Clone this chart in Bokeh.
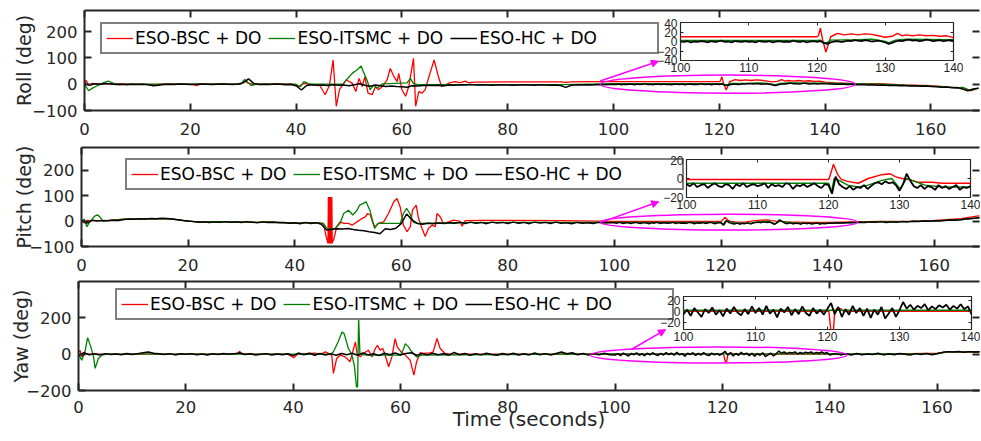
import numpy as np
from bokeh.plotting import figure
from bokeh.models import (Range1d, LinearAxis, FixedTicker, Legend, LegendItem,
                          Arrow, NormalHead, GridBox)
from bokeh.layouts import column
from bokeh.embed import file_html
from bokeh.resources import INLINE

# ------------------------------------------------------------------ data
series_names = ["ESO-BSC + DO", "ESO-ITSMC + DO", "ESO-HC + DO"]
x_title = "Time (seconds)"
x_ticks = [0, 20, 40, 60, 80, 100, 120, 140, 160]
inset_x_ticks = [100, 110, 120, 130, 140]
roll_y_ticks = [-100, 0, 100, 200]
pitch_y_ticks = [-100, 0, 100, 200]
yaw_y_ticks = [-200, 0, 200]
roll_inset_y_ticks = [-40, -20, 0, 20, 40]
pitch_inset_y_ticks = [-20, 0, 20]
yaw_inset_y_ticks = [-20, 0, 20]
roll_y_range = (-100, 280)
pitch_y_range = (-100, 290)
yaw_y_range = (-200, 400)
roll_inset_y_range = (-40, 40)
pitch_inset_y_range = (-20, 20)
yaw_inset_y_range = (-33, 27)

# sample times of the ESO-HC + DO records
t_hc = np.concatenate([np.arange(0, 100, 1.0), np.arange(100, 140.25, 0.5),
                       np.arange(141, 170, 1.0)])

# ---- Roll
roll_bsc_t = [0, 0.3, 0.8, 1.5, 2.5, 5, 10, 13.5, 15, 20, 21.3, 22, 29.5, 30.3, 31, 32, 39,
              40.5, 41.5, 42.5, 44.5, 45.5, 46.3, 47, 47.6, 48.2, 48.9, 49.5, 50.6, 51.3,
              51.9, 52.5, 53, 53.6, 54.4, 55, 55.6, 56.3, 57.2, 57.8, 58.5, 59.1, 59.4, 60,
              60.7, 61.3, 62.2, 62.6, 63.2, 63.8, 64.4, 65.3, 66.1, 66.9, 67.5, 68.2, 69, 70,
              71, 72, 72.5, 74, 80, 90, 91, 92, 95, 120, 120.2, 120.5, 120.8, 121.3, 121.7,
              122, 123, 124, 125, 126, 127, 128, 129, 130, 131, 131.8, 132.5, 133, 134, 135,
              136, 137, 138, 139, 140, 142, 145, 150, 155, 160, 163, 165, 166, 167.5, 169]
roll_bsc = [0, 15, -5, 3, 0, 2, 0, -2, 1, 0, -5, 1, 0, 12, 3, 0, 1,
            -8, 3, 0, -5, -40, -5, 92, -84, -21, 0, 16, 4, -28,
            22, -9, 29, -34, -40, -9, -21, -9, 16, 60, 29, 10, 41, -21,
            -46, -9, 98, -84, -28, -34, -21, 41, 92, 29, -9, -3, 5, 10,
            6, 12, 6, 8, 9, 9, 7, 9, 10, 10, 12, 28, 5, -22, -5,
            10, 17, 14, 16, 14, 16, 15, 12, 9, 11, 17, 12, 14, 12, 14,
            12, 13, 11, 12, 8, 5, 3, 2, -3, -6, -10, -14, -12, -25, -15]
roll_itsmc_t = [0, 0.3, 0.8, 1.5, 2.5, 3.5, 4.5, 5.5, 6.5, 8, 29.5, 30.3, 31, 31.5, 32.5,
                40, 40.8, 41.5, 42.5, 48.9, 49.5, 50.6, 51.5, 52.3, 52.7, 53.4, 54, 54.7,
                55.3, 56.3, 61, 61.6, 62.2, 63, 90, 100, 120, 120.5, 121, 121.5, 122, 126,
                128, 129, 130, 130.5, 131.5, 133, 140, 145, 150, 155, 160, 163, 165, 166,
                167.5, 169]
roll_itsmc = [0, -10, -25, -15, -5, 5, 12, 3, -2, 0, 0, 18, 5, -5, 0,
              0, -10, 10, 0, 0, 16, 41, 54, 69, 48, 16, -21, -3,
              -15, 1, 5, 22, 2, -2, -2, 2, 2, 3, -4, -2, 3, 4,
              5, 3, 0, -3, 3, 5, 4, 2, 0, -4, -7, -10, -14, -12,
              -24, -15]
roll_hc = ([2, -3, 2, 0, 3, 1, -1, 0, -2, 0,
            -1, 0, -2, -6, -4, -1, 0, -1, 1, 0,
            -1, 0, 1, 0, -1, 0, 1, 0, -1, 1,
            5, 20, 3, -1, 0, -1, 1, 0, -2, -1,
            -6, -22, -5, -2, -4, -3, -5, -2, -4, -3,
            -6, -2, 2, -4, -8, -3, -6, -9, -7, -9,
            -10, -12, -6, -7, -5, -4, -5, -4, -6, -3,
            -4, -2, -3, -1, -3, -2, -3, -4, -3, -2,
            -3, -4, -3, -2, -3, -4, -2, -3, -4, -3,
            -5, -12, -4, -2, -3, -2, -3, -1, -2, -1]
           + [0, -1, 1, -2, 0, -1, 1, 0, -2, 1, -1, 0, 2, -1, 0, -2, 1, 0, -1, 1, -1,
              0, -2, 1, 0, -1, 1, -2, 0, 1, -1, 0, -1, 2, 0, -1, 1, -2, 0, 1, -1,
              1, -3, -5, -2, 0, 1, -1, 0, 2, 1, 3, 2, 1, 3, 2, 0, 1, 2, 0, -2,
              -5, -3, 0, 2, 1, 3, 4, 2, 3, 1, 2, 4, 3, 1, 2, 3, 1, 2, 3, 2]
           + [1, 0, 1, -1, 0, -2, -1, -3, -2, -4, -3, -5, -4, -6, -5, -7, -6, -8, -7, -9,
              -10, -12, -11, -14, -13, -18, -25, -18, -15])

# ---- Pitch
pitch_bsc_t = [0, 0.5, 1, 2, 5, 8, 12, 16, 18, 20, 22, 25, 30, 33, 35, 40, 44,
               45.4, 45.9, 46.25, 46.33, 46.41, 46.49, 46.57, 46.65, 46.73, 46.81,
               46.89, 46.97, 47.05, 47.1, 47.3,
               47.9, 48.5, 49.2, 50.1, 50.75, 51.7, 52.6, 53.25, 53.7, 54.2,
               54.7, 55.1, 55.75, 56.7, 57.6, 58.6, 59.2, 59.8, 60.4, 61.1,
               61.7, 62.1, 62.8, 63.25, 63.9, 64.5, 65.1, 65.75, 66.4, 66.7,
               67.3, 67.9, 68.9, 69.8, 71, 71.4, 72, 75, 80, 90,
               100, 120, 120.1, 120.7, 121.3, 121.8, 122.7, 124.2, 125.6, 127.5,
               128.7, 129.4, 130.3, 131.3, 132.7, 134.6, 136, 138.3, 140,
               145, 150, 155, 160, 165, 168, 170]
pitch_bsc = [5, -8, 3, 2, 3, 8, 9, 10, 6, 0, -3, -2, -3, -5, -3, -8, -6,
             -9, -61, -88, 95, -88, 95, -88, 95, -88, 95,
             -88, 95, -88, -80, -75,
             -22, -3, -9, -9, -16, -3, 10, 17, 30, 24,
             -9, -22, -9, -3, 30, 76, 89, 56, -16, -42,
             -22, 43, 63, 10, -29, -61, -29, -16, -22, 30,
             17, -9, -3, 4, 0, -20, 2, 3, 3, 2,
             -1, -1, 0, 15, 4, -1, -3, -5, 0, 4,
             5, 2, 0, -1, -4, -4, -5, -5, -5,
             -3, -1, -1, 3, 10, 20, 22]
pitch_itsmc_t = [0, 0.5, 1, 1.5, 2.5, 3, 3.5, 4, 5, 8,
                 12, 16, 18, 20, 22, 25, 30, 33, 35, 40,
                 44, 45.4, 45.9, 46.5, 47.5, 48.5, 49.2, 50.1, 50.9, 51.7,
                 52.2, 52.8, 53.4, 54.1, 55, 55.6, 57, 59.8, 60.4, 61,
                 61.6, 62.3, 63, 70, 80, 100, 120, 120.1, 120.4, 120.8,
                 121.5, 122.7, 124.2, 125.6, 127.5, 128.9, 130.1, 131, 131.7, 133.6,
                 136, 140, 145, 150, 155, 160, 165, 168, 170]
pitch_itsmc = [-3, 8, -22, -5, 20, 25, 15, 0, 2, 8,
               9, 10, 6, 0, -3, -2, -3, -5, -3, -8,
               -6, -10, -25, -33, -30, -9, 30, 43, 24, 43,
               63, 69, 76, 43, -29, -9, -9, -9, 30, 50,
               30, -5, -9, -6, -5, -5, -5, -6, -15, 0,
               -2, -7, -9, -7, -2, 0, -11, 0, -2, -7,
               -9, -9, -5, -3, -2, 1, 6, 12, 14]
pitch_hc = ([5, -8, 3, 0, 2, 1, 3, 2, 6, 8,
             7, 9, 8, 10, 9, 11, 10, 8, 5, 2,
             0, -2, -4, -3, -5, -3, -4, -2, -4, -3,
             -5, -2, -4, -6, -3, -5, -4, -6, -5, -8,
             -6, -10, -5, -9, -6, -12, -35, -32, -30, -31,
             -29, -33, -36, -38, -42, -45, -50, -30, -33, -28,
             -10, 28, 5, -9, -12, -8, -10, -7, -9, -6,
             -8, -5, -9, -4, -8, -5, -10, -4, -7, -5,
             -9, -4, -8, -5, -10, -4, -7, -5, -9, -4,
             -8, -6, -10, -5, -8, -6, -9, -5, -7, -6]
            + [-6, -8, -5, -9, -7, -6, -10, -7, -5, -8, -9, -6, -7, -11, -6, -8, -5, -9, -7, -6, -8,
               -7, -5, -10, -6, -8, -7, -9, -5, -6, -11, -7, -8, -6, -9, -7, -5, -8, -10, -6, -7,
               -16, 2, -6, -9, -11, -8, -12, -9, -10, -7, -11, -8, -5, -4, -6, -3, -5, -4, -7, -13,
               -6, 5, -2, -8, -10, -7, -11, -8, -9, -12, -7, -10, -8, -11, -9, -7, -12, -9, -10, -8]
            + [-8, -6, -7, -5, -6, -4, -5, -3, -4, -2, -5, -3, -4, -2, -3, -1, -2, 0, -1, 1,
               0, 2, 4, 3, 5, 8, 10, 12, 14])

# ---- Yaw
yaw_bsc_t = [0, 0.3, 0.6, 1, 1.5, 5, 20, 29.5, 30, 30.5,
             31, 39, 40.1, 40.8, 44, 45.2, 46, 47.2, 47.5, 48.1,
             48.8, 49.7, 50.6, 51.6, 51.9, 52.5, 53.1, 54, 54.7, 55.3,
             55.7, 56.2, 56.7, 57.1, 57.8, 58.4, 59, 59.4, 60.1, 60.9,
             61.8, 62.5, 63, 63.7, 64.3, 65.5, 66.1, 66.8, 67.4, 68.3,
             69.3, 100, 120.2, 120.5, 120.8, 121, 121.3, 121.8, 122.2, 140,
             150, 160, 162, 170]
yaw_bsc = [10, 20, -15, 5, 0, 0, 0, 0, 15, 3,
           0, 0, -20, 0, 5, 0, 13, -5, -106, -24,
           -5, -15, -42, 68, 4, -15, 4, 22, -15, 31,
           49, 22, 31, -2, -69, -15, 86, 40, 13, -5,
           -33, -115, -42, 9, 4, 7, 13, 86, 31, 4,
           0, 0, 0, -40, -40, 0, 5, 5, 0, 0,
           0, 5, 12, 12]
yaw_itsmc_t = [0, 0.6, 1.2, 1.7, 2.3, 2.8, 3.1, 3.7, 4.4, 5.3,
               47, 47.5, 48.4, 49.1, 49.5, 50.3, 50.9, 51.4, 51.8, 52.0,
               52.2, 52.45, 53.7, 60, 60.6, 60.9, 61.5, 62.1, 63, 64,
               100, 140, 150, 160, 162, 170]
yaw_itsmc = [0, -33, 13, 91, 40, -15, -78, -24, -5, 0,
             0, 13, 68, 122, 113, 31, -2, -60, -180, -180,
             200, 0, -5, -5, 31, 58, 40, 13, -15, -5,
             2, 2, 1, 3, 13, 13]
yaw_hc = ([-10, 8, -3, 2, -4, 3, -2, 1, -3, 4,
           -2, 3, 8, 12, 5, 2, -2, 3, -4, 2,
           -1, 3, -3, 1, -4, 2, -2, 4, -1, 3,
           6, -2, 2, -4, -1, 3, -5, 1, -3, 2,
           -8, 6, -4, 5, -6, 4, -5, 3, -6, 4,
           -3, 5, -6, 7, -4, 2, -7, 5, -3, 6,
           -5, 4, 8, -6, 3, -4, 5, -3, 2, -5,
           10, -3, 4, -6, 3, -4, 5, -2, -6, 4,
           -3, 5, -5, 2, -4, 6, -3, 3, -5, 4,
           12, 2, 8, -3, 4, -5, 3, -4, 5, -3]
          + [-5, 3, -8, 6, -2, -10, 4, -3, 7, -6, 2, -9, 5, -4, 8, -2, -7, 4, -5, 9, -3,
             6, -6, 10, -4, 3, -11, 5, -2, 8, -7, 4, -5, 9, -3, -8, 6, -4, 3, -6, 5,
             15, -5, 8, -10, 4, -6, 10, -3, 6, -8, 5, -12, 3, -6, 8, -13, -4, 6, -10, 2,
             17, 5, 12, 3, 10, 6, 13, 2, 9, 4, 11, 7, 12, 3, 10, 5, 13, 4, 9, -5]
          + [3, -4, 2, -5, 4, -3, 1, -2, 5, -4, 2, -3, 4, -1, -5, 3, -2, 4, -3, 2,
             10, 14, 12, 15, 11, 14, 12, 13, 10])

# highlight ellipses (centre t, centre value, width s, height deg) and arrows
roll_ellipse = [121.6, 0, 48.2, 69]
pitch_ellipse = [121.5, -4, 48.2, 62]
yaw_ellipse = [119.3, -4.5, 47.8, 89]
roll_arrow = [97.5, 12, 108.5, 87]
pitch_arrow = [97.7, -3, 108.3, 76]
yaw_arrow = [103.1, 27, 109.4, 135]

assert len(roll_bsc_t) == len(roll_bsc) and len(roll_itsmc_t) == len(roll_itsmc)
assert len(pitch_bsc_t) == len(pitch_bsc) and len(pitch_itsmc_t) == len(pitch_itsmc)
assert len(yaw_bsc_t) == len(yaw_bsc) and len(yaw_itsmc_t) == len(yaw_itsmc)
assert len(t_hc) == len(roll_hc) == len(pitch_hc) == len(yaw_hc)

# ------------------------------------------------------------------ style
FONT = "DejaVu Sans"
IFONT = "Liberation Sans"
INK = "#262626"
RED = "#ff0000"
GREEN = "#008000"
MAG = "#ff00ff"
W = 980


def style_axis(ax, ticks, tick_len, font, size, standoff, line=True, lw=2, labels=True):
    ax.ticker = FixedTicker(ticks=ticks)
    ax.major_tick_in = tick_len
    ax.major_tick_out = 0
    ax.minor_tick_line_color = None
    ax.major_tick_line_color = INK
    ax.major_tick_line_width = lw
    ax.axis_line_color = INK if line else None
    ax.axis_line_width = lw
    ax.major_label_standoff = standoff
    if labels:
        ax.major_label_text_font = font
        ax.major_label_text_font_size = size
        ax.major_label_text_color = INK
    else:
        ax.major_label_text_font_size = "0px"
        ax.major_label_text_color = None


def set_title(ax, text, standoff, size):
    ax.axis_label = text
    ax.axis_label_text_font = FONT
    ax.axis_label_text_font_size = size
    ax.axis_label_text_font_style = "normal"
    ax.axis_label_text_color = INK
    ax.axis_label_standoff = standoff


def make_main(height, top, left, bottom, xend, yr, yt, ylabel, ylabel_standoff, x_standoff,
              xlabel=None, xlabel_standoff=0):
    p = figure(width=W, height=height, x_range=Range1d(0, xend), y_range=Range1d(*yr),
               output_backend="svg", toolbar_location=None, tools="",
               min_border_left=left, min_border_right=1, min_border_top=top,
               min_border_bottom=bottom, background_fill_color="white",
               border_fill_color="white", outline_line_color=None)
    p.grid.visible = False
    bx = p.below[0]
    style_axis(bx, x_ticks, 7, FONT, "16.5px", x_standoff)
    if xlabel:
        set_title(bx, xlabel, xlabel_standoff, "20px")
    ly = p.left[0]
    style_axis(ly, yt, 7, FONT, "16.5px", 7)
    set_title(ly, ylabel, ylabel_standoff, "19px")
    topax = LinearAxis()
    style_axis(topax, x_ticks, 7, FONT, "0px", 0, labels=False)
    p.add_layout(topax, "above")
    right = LinearAxis()
    style_axis(right, yt, 7, FONT, "0px", 0, line=False, labels=False)
    p.add_layout(right, "right")
    return p


def draw(p, tb, vb, tg, vg, th, vh, w1, w2):
    r1 = p.line(tb, vb, line_color=RED, line_width=w1)
    r2 = p.line(tg, vg, line_color=GREEN, line_width=w1)
    r3 = p.line(th, vh, line_color="black", line_width=w2)
    return [r1, r2, r3]


def add_legend(p, rends, loc):
    dummy = p.line([0, 0.001], [0, 0], line_alpha=0)
    items = [LegendItem(label=n, renderers=[r]) for n, r in zip(series_names, rends)]
    items.append(LegendItem(label=" ", renderers=[dummy]))
    lg = Legend(items=items, orientation="horizontal", location=loc, margin=0, padding=4,
                spacing=7, glyph_width=27, glyph_height=16, label_standoff=2, label_height=16,
                label_text_font=FONT, label_text_font_size="17px", label_text_color="black",
                border_line_color="black", border_line_width=2,
                background_fill_color="white", background_fill_alpha=1.0)
    p.add_layout(lg)


def add_marks(p, ell, arr):
    p.ellipse(x=[ell[0]], y=[ell[1]], width=[ell[2]], height=[ell[3]],
              fill_color=None, line_color=MAG, line_width=1.5)
    p.add_layout(Arrow(end=NormalHead(size=7, fill_color=MAG, line_color=MAG),
                       x_start=arr[0], y_start=arr[1], x_end=arr[2], y_end=arr[3],
                       line_color=MAG, line_width=1.5))


def make_inset(fw, fh, yr, yt, right_border=10):
    q = figure(width=30 + fw + right_border, height=4 + fh + 18, x_range=Range1d(100, 140),
               y_range=Range1d(*yr), output_backend="svg", toolbar_location=None, tools="",
               min_border_left=30, min_border_right=right_border, min_border_top=4,
               min_border_bottom=18, background_fill_color="white", border_fill_alpha=0,
               outline_line_color=INK, outline_line_width=1.2)
    q.grid.visible = False
    style_axis(q.below[0], inset_x_ticks, 3, IFONT, "12px", 2, line=False, lw=1)
    style_axis(q.left[0], yt, 3, IFONT, "12px", 3, line=False, lw=1)
    topax = LinearAxis()
    style_axis(topax, inset_x_ticks, 3, IFONT, "0px", 0, line=False, lw=1, labels=False)
    q.add_layout(topax, "above")
    right = LinearAxis()
    style_axis(right, yt, 3, IFONT, "0px", 0, line=False, lw=1, labels=False)
    q.add_layout(right, "right")
    return q


# ------------------------------------------------------------------ Roll
p1 = make_main(145, 10, 84, 35, 169.2, roll_y_range, roll_y_ticks, "Roll (deg)", -6, 12)
r = draw(p1, roll_bsc_t, roll_bsc, roll_itsmc_t, roll_itsmc, t_hc, roll_hc, 1.3, 1.5)
add_marks(p1, roll_ellipse, roll_arrow)
add_legend(p1, r, (16, 56))
i1 = make_inset(273, 38, roll_inset_y_range, roll_inset_y_ticks)
draw(i1, roll_bsc_t, roll_bsc, roll_itsmc_t, roll_itsmc, t_hc, roll_hc, 1.4, 1.8)
g1 = GridBox(children=[(p1, 0, 0, 3, 3), (i1, 1, 1, 1, 1)],
             rows=["18px", "60px", "67px"], cols=["650px", "313px", "17px"], spacing=0)

# ------------------------------------------------------------------ Pitch
p2 = make_main(134, 2, 81, 33, 168.5, pitch_y_range, pitch_y_ticks, "Pitch (deg)", -9, 12)
r = draw(p2, pitch_bsc_t, pitch_bsc, pitch_itsmc_t, pitch_itsmc, t_hc, pitch_hc, 1.3, 1.5)
add_marks(p2, pitch_ellipse, pitch_arrow)
add_legend(p2, r, (44, 56))
i2 = make_inset(284, 38, pitch_inset_y_range, pitch_inset_y_ticks)
draw(i2, pitch_bsc_t, pitch_bsc, pitch_itsmc_t, pitch_itsmc, t_hc, pitch_hc, 1.4, 1.8)
g2 = GridBox(children=[(p2, 0, 0, 3, 3), (i2, 1, 1, 1, 1)],
             rows=["10px", "60px", "64px"], cols=["656px", "324px", "0px"], spacing=0)

# ------------------------------------------------------------------ Yaw
p3 = make_main(160, 2, 78, 49, 167.9, yaw_y_range, yaw_y_ticks, "Yaw (deg)", -9, 10,
               xlabel=x_title, xlabel_standoff=-9)
r = draw(p3, yaw_bsc_t, yaw_bsc, yaw_itsmc_t, yaw_itsmc, t_hc, yaw_hc, 1.3, 1.5)
add_marks(p3, yaw_ellipse, yaw_arrow)
add_legend(p3, r, (37, 70))
i3 = make_inset(288, 33, yaw_inset_y_range, yaw_inset_y_ticks, right_border=9)
draw(i3, yaw_bsc_t, yaw_bsc, yaw_itsmc_t, yaw_itsmc, t_hc, yaw_hc, 1.4, 1.8)
g3 = GridBox(children=[(p3, 0, 0, 3, 3), (i3, 1, 1, 1, 1)],
             rows=["13px", "55px", "92px"], cols=["653px", "327px", "0px"], spacing=0)

layout = column(g1, g2, g3, spacing=0)
open("out.html", "w").write(file_html(layout, INLINE))
